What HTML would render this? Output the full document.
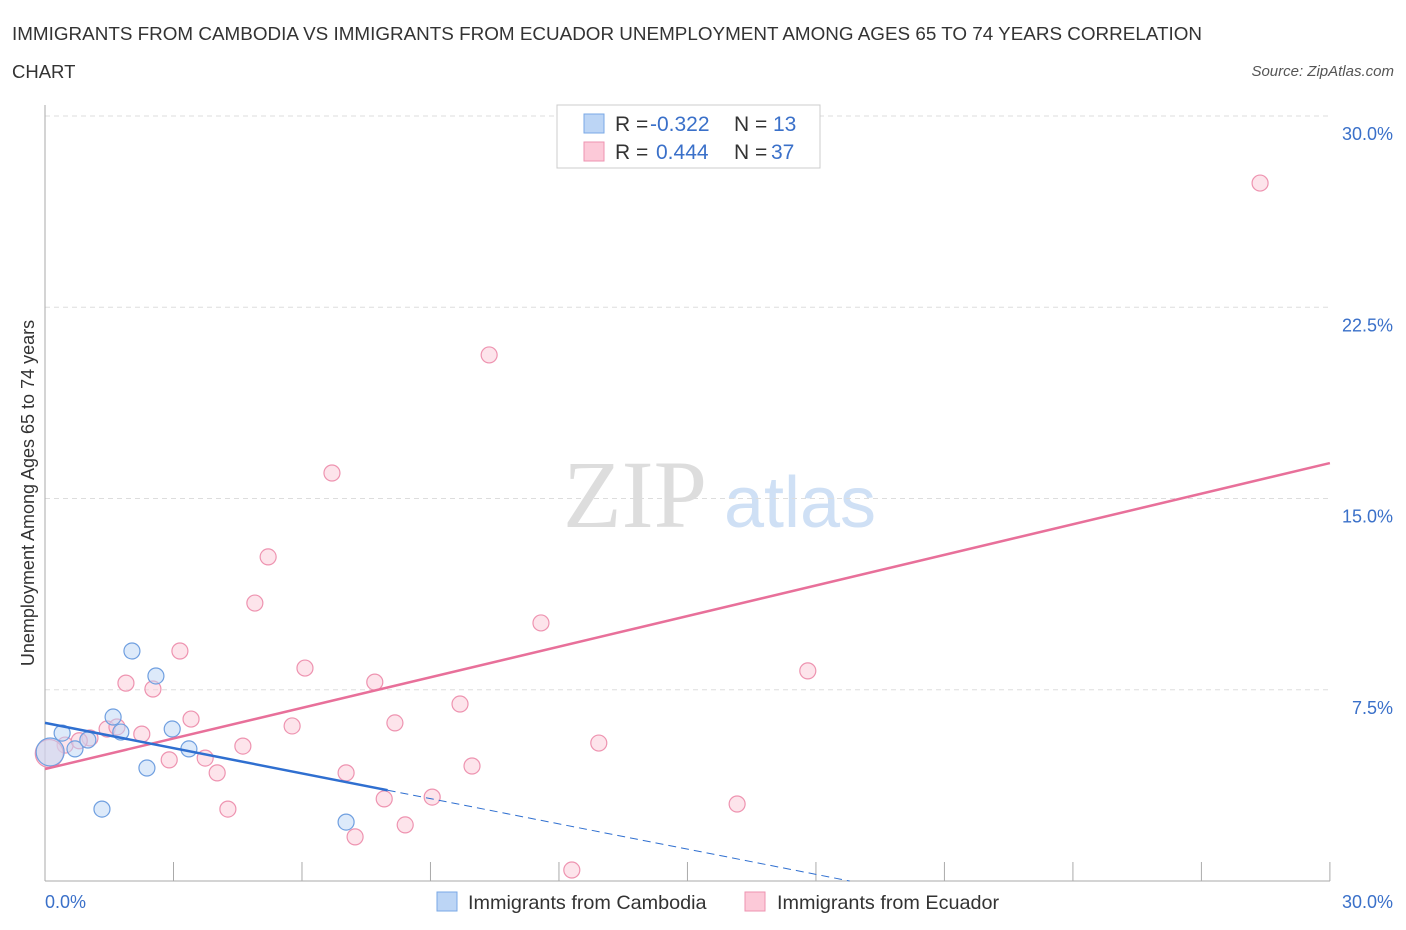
<!DOCTYPE html>
<html><head><meta charset="utf-8"><style>
body{margin:0;background:#fff;font-family:"Liberation Sans",sans-serif;}
svg{display:block}
</style></head><body>
<svg id="c" width="1406" height="930">
<text x="12" y="40" font-size="18.5" fill="#333" textLength="1190" lengthAdjust="spacingAndGlyphs">IMMIGRANTS FROM CAMBODIA VS IMMIGRANTS FROM ECUADOR UNEMPLOYMENT AMONG AGES 65 TO 74 YEARS CORRELATION</text>
<text x="12" y="78" font-size="18.5" fill="#333">CHART</text>
<text x="1394" y="76" font-size="15" fill="#555" font-style="italic" text-anchor="end">Source: ZipAtlas.com</text>
<text x="635" y="527" font-size="96" font-family="Liberation Serif" fill="#ddd" text-anchor="middle">ZIP</text>
<text x="800" y="527" font-size="72" fill="#cfe0f5" text-anchor="middle">atlas</text>
<text transform="translate(34,493) rotate(-90)" font-size="18" fill="#333" text-anchor="middle">Unemployment Among Ages 65 to 74 years</text>
<g id="grid"></g><g id="marks"></g>
<g>
<rect x="557" y="105" width="263" height="63" fill="#fff" stroke="#ccc"/>
<rect x="584" y="114" width="20" height="19" fill="#bcd5f5" stroke="#7aa8e6"/>
<rect x="584" y="142" width="20" height="19" fill="#fcc9d8" stroke="#ee93b0"/>
<text x="615" y="131" font-size="21" fill="#333">R =</text>
<text x="650" y="131" font-size="21" fill="#3a70c9">-0.322</text>
<text x="734" y="131" font-size="21" fill="#333">N =</text>
<text x="773" y="131" font-size="21" fill="#3a70c9">13</text>
<text x="615" y="159" font-size="21" fill="#333">R =</text>
<text x="656" y="159" font-size="21" fill="#3a70c9">0.444</text>
<text x="734" y="159" font-size="21" fill="#333">N =</text>
<text x="771" y="159" font-size="21" fill="#3a70c9">37</text>
</g>
<g>
<rect x="437" y="892" width="20" height="19" fill="#bcd5f5" stroke="#7aa8e6"/>
<text x="468" y="909" font-size="19.8" fill="#333">Immigrants from Cambodia</text>
<rect x="745" y="892" width="20" height="19" fill="#fcc9d8" stroke="#ee93b0"/>
<text x="777" y="909" font-size="19.8" fill="#333">Immigrants from Ecuador</text>
</g>
</svg>
<script>
const yTicks=[7.5,15,22.5,30];
const yTickLabels=["7.5%","15.0%","22.5%","30.0%"];
const camX=[0.12,0.40,0.70,1.0,1.33,1.59,1.77,2.03,2.38,2.59,2.97,3.36,7.03];
const camY=[5.06,5.80,5.18,5.53,2.82,6.43,5.84,9.02,4.43,8.04,5.96,5.18,2.31];
const camR=[14,8,8,8,8,8,8,8,8,8,8,8,8];
const ecuX=[28.37,10.37,6.70,5.21,4.90,11.58,3.15,1.89,2.52,6.07,7.70,17.81,9.69,3.41,5.77,8.17,1.45,1.68,2.26,1.05,0.47,4.62,12.93,2.90,3.74,4.02,7.03,9.97,4.27,7.92,9.04,16.16,8.41,7.24,12.30,0.1,0.8];
const ecuY=[27.37,20.63,16.0,12.71,10.9,10.12,9.02,7.76,7.53,8.35,7.80,8.24,6.94,6.35,6.08,6.20,5.96,6.04,5.76,5.61,5.33,5.29,5.41,4.75,4.82,4.24,4.24,4.51,2.82,3.22,3.29,3.02,2.20,1.73,0.43,5.0,5.5];
const ecuR=[8,8,8,8,8,8,8,8,8,8,8,8,8,8,8,8,8,8,8,8,8,8,8,8,8,8,8,8,8,8,8,8,8,8,8,14,8];
const camTrend=[6.2,-0.33];
const ecuTrend=[4.39,0.4];
const X=v=>45+v*42.83, Y=v=>881-v*25.5;
const NS="http://www.w3.org/2000/svg";
function mk(p,t,a){const e=document.createElementNS(NS,t);for(const k in a)e.setAttribute(k,a[k]);p.appendChild(e);return e;}
const g=document.getElementById('grid'),m=document.getElementById('marks');
yTicks.forEach((t,i)=>{
 const l=mk(g,'line',{x1:45,x2:1330,y1:Y(t),y2:Y(t),stroke:'#ddd','stroke-dasharray':'5,4'});
 
 
 const tx=mk(g,'text',{x:1393,y:Y(t)+24,'font-size':18,fill:'#3a70c9','text-anchor':'end'});
 tx.textContent=yTickLabels[i];
 
 
});
mk(g,'line',{x1:45,x2:45,y1:105,y2:881,stroke:'#aaa'});
mk(g,'line',{x1:45,x2:1330,y1:881,y2:881,stroke:'#aaa'});
for(let i=0;i<=10;i++){const l=mk(g,'line',{x1:X(i*3),x2:X(i*3),y1:862,y2:881,stroke:'#aaa'});
 
 }
[["0.0%",45,"start"],["30.0%",1393,"end"]].forEach(a=>{const t=mk(g,'text',{x:a[1],y:908,'font-size':18,fill:'#3a70c9','text-anchor':a[2]});t.textContent=a[0];
 
 });
function dots(xs,ys,rs,fill,stroke,name){xs.forEach((x,i)=>{const c=mk(m,'circle',{cx:X(x),cy:Y(ys[i]),r:rs[i],fill:fill,stroke:stroke,'stroke-width':1.2});
 
 });}
dots(ecuX,ecuY,ecuR,'rgba(252,201,216,0.5)','#ee93b0','ecuador-point');
dots(camX,camY,camR,'rgba(188,213,245,0.5)','#6f9fe0','cambodia-point');
let l=mk(m,'line',{x1:X(0),y1:Y(ecuTrend[0]),x2:X(30),y2:Y(ecuTrend[0]+ecuTrend[1]*30),stroke:'#e8709a','stroke-width':2.5});


l=mk(m,'line',{x1:X(0),y1:Y(camTrend[0]),x2:X(8),y2:Y(camTrend[0]+camTrend[1]*8),stroke:'#2f6fd0','stroke-width':2.5});


const xe=-camTrend[0]/camTrend[1];
l=mk(m,'line',{x1:X(8),y1:Y(camTrend[0]+camTrend[1]*8),x2:X(xe),y2:Y(0),stroke:'#2f6fd0','stroke-width':1,'stroke-dasharray':'8,5'});


</script>
</body></html>
